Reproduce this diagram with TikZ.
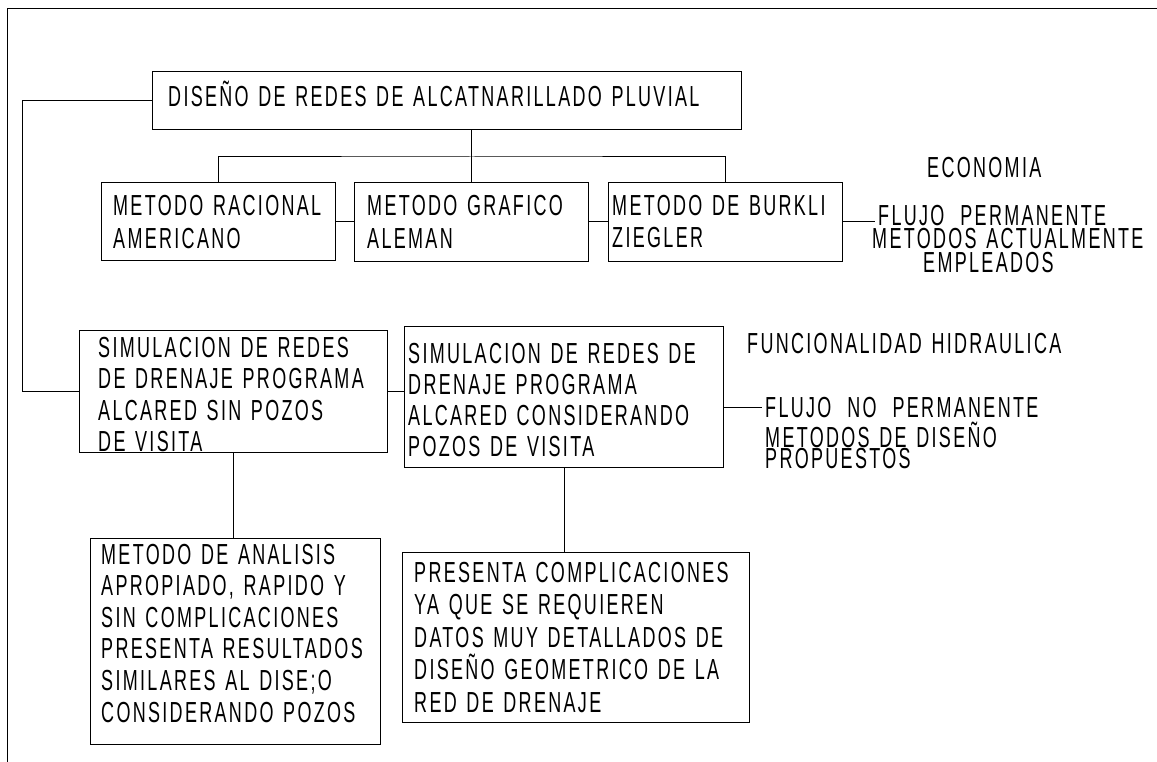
\documentclass[tikz,border=0pt]{standalone}
\usepackage{fontspec}
\setmainfont{Liberation Sans}[FakeStretch=0.62,LetterSpace=8]
\usetikzlibrary{calc}
\newcommand\cadfont[1]{\fontsize{29}{#1}\selectfont\spaceskip=0.55em\relax\xspaceskip=0.55em\relax\lineskiplimit=-100pt\relax}
\begin{document}
\begin{tikzpicture}[x=1pt,y=-1pt,
  box/.style={draw=black, line width=1pt, inner sep=0pt, anchor=north west},
  wire/.style={draw=black, line width=1pt},
  txt/.style={inner sep=0pt, anchor=base west, text width=700pt, align=left, font=\cadfont{31.5}},
  lbl/.style={inner xsep=3pt, inner ysep=0pt, anchor=base west, font=\cadfont{31.5}}]
\useasboundingbox (0,0) rectangle (1157,762);
% frame
\draw[wire] (7,762) -- (7,9) -- (1157,9);
% boxes
\node[box, minimum width=589pt, minimum height=58pt] (main) at (152,71) {};
\node[box, minimum width=234pt, minimum height=78pt] (rac) at (101,182) {};
\node[box, minimum width=234pt, minimum height=79pt] (graf) at (354,182) {};
\node[box, minimum width=234pt, minimum height=79pt] (burk) at (608,182) {};
\node[box, minimum width=308pt, minimum height=122pt] (sim1) at (79,330) {};
\node[box, minimum width=319pt, minimum height=141pt] (sim2) at (404,326) {};
\node[box, minimum width=290pt, minimum height=206pt] (bl) at (90,538) {};
\node[box, minimum width=347pt, minimum height=170pt] (br) at (402,552) {};
% texts
\node[txt] (mainT) at (168,107) {DISEÑO DE REDES DE ALCATNARILLADO PLUVIAL};
\node[txt, font=\cadfont{33}] (racT) at (113,216) {METODO RACIONAL\\AMERICANO};
\node[txt, font=\cadfont{33}] (grafT) at (367,216) {METODO GRAFICO\\ALEMAN};
\node[txt, font=\cadfont{32}] (burkT) at (612,216) {METODO DE BURKLI\\ZIEGLER};
\node[txt] (sim1T) at (98,357) {SIMULACION DE REDES\\DE DRENAJE PROGRAMA\\ALCARED SIN POZOS\\DE VISITA};
\node[txt, font=\cadfont{31.3}] (sim2T) at (408,363) {SIMULACION DE REDES DE\\DRENAJE PROGRAMA\\ALCARED CONSIDERANDO\\POZOS DE VISITA};
\node[txt, font=\cadfont{31.6}] (blT) at (101,564) {METODO DE ANALISIS\\APROPIADO, RAPIDO Y\\SIN COMPLICACIONES\\PRESENTA RESULTADOS\\SIMILARES AL DISE;O\\CONSIDERANDO POZOS};
\node[txt, font=\cadfont{32.5}] (brT) at (414,582) {PRESENTA COMPLICACIONES\\YA QUE SE REQUIEREN\\DATOS MUY DETALLADOS DE\\DISEÑO GEOMETRICO DE LA\\RED DE DRENAJE};
% side labels
\node[txt] (eco) at (927,178) {ECONOMIA};
\node[lbl] (flujoP) at (875,226) {FLUJO PERMANENTE};
\node[txt, font=\cadfont{24}] (metA) at (872,249) {METODOS ACTUALMENTE\\\hspace*{51pt}EMPLEADOS};
\node[txt] (func) at (747,353) {FUNCIONALIDAD HIDRAULICA};
\node[lbl] (flujoNP) at (762,417) {FLUJO NO PERMANENTE};
\node[txt, font=\cadfont{21}] (metD) at (765,447) {METODOS DE DISEÑO\\PROPUESTOS};
% connectors
\coordinate (lbus) at (22,101);
\coordinate (bus) at (472,157);
\draw[wire] (main.west) -- (main.west -| lbus) |- (sim1.west);
\draw[wire] (graf.north |- main.south) -- (graf.north);
\draw[wire] (rac.north) |- (bus) -| (burk.north);
\draw[wire] (rac.east) -- (rac.east -| graf.west);
\draw[wire] (graf.east) -- (graf.east -| burk.west);
\draw[wire] (burk.east) -- (burk.east -| flujoP.west);
\draw[wire] (sim1.east) -- (sim1.east -| sim2.west);
\draw[wire] (sim2.east |- flujoNP.west) -- (flujoNP.west);
\draw[wire] (sim1.south) -- (sim1.south |- bl.north);
\draw[wire] (sim2.south) -- (sim2.south |- br.north);
\end{tikzpicture}
\end{document}
